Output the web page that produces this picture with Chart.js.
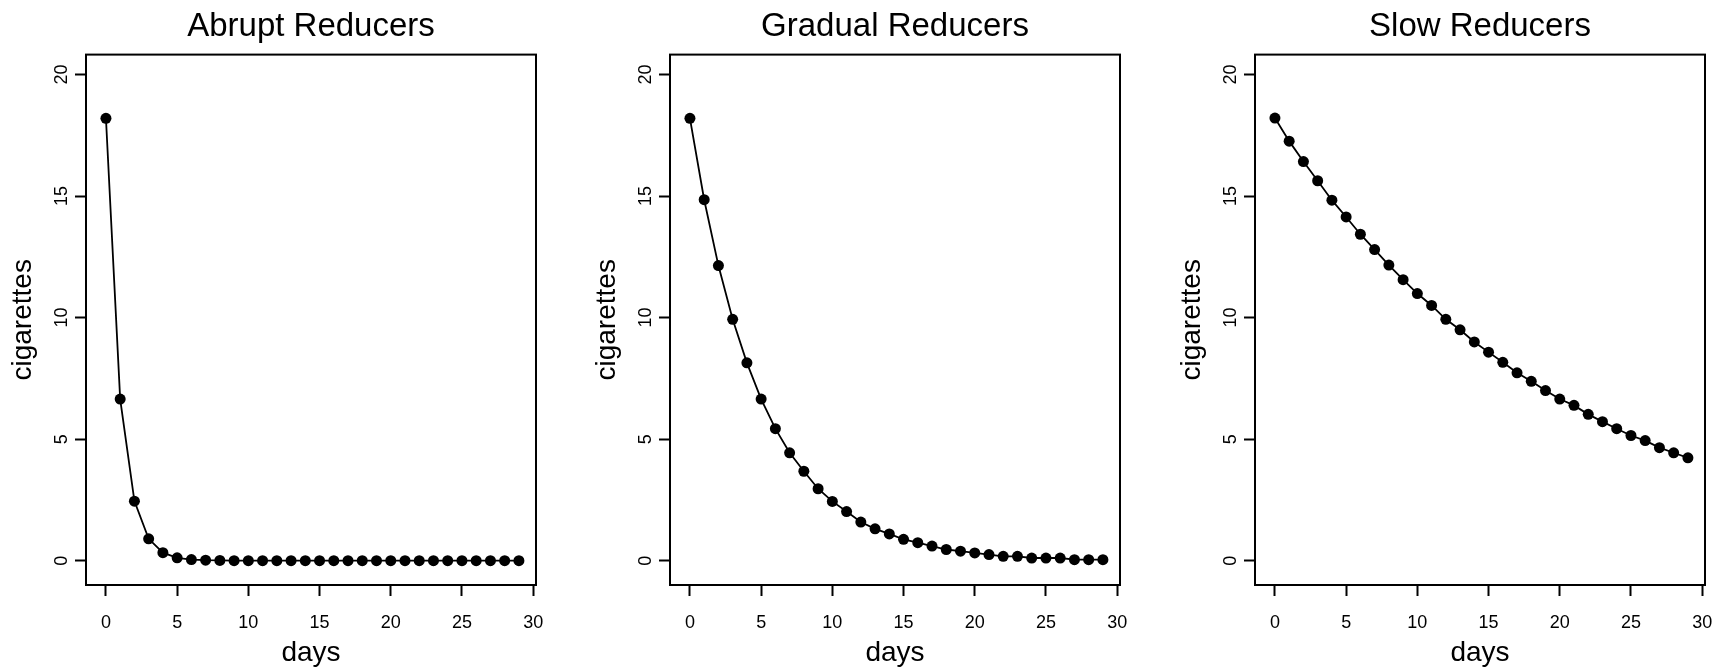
<!DOCTYPE html>
<html>
<head>
<meta charset="utf-8">
<script src="https://cdn.jsdelivr.net/npm/chart.js@4"></script>
<style>
    body { margin: 0; background: #fff; width: 1730px; height: 672px; position: relative; overflow: hidden; }
    canvas { position: absolute; top: 0; }
</style>
</head>
<body>
<canvas id="abrupt" width="561" height="672" style="left:0px"></canvas>
<canvas id="gradual" width="561" height="672" style="left:584px"></canvas>
<canvas id="slow" width="561" height="672" style="left:1169px"></canvas>
<script>
const days = [0, 1, 2, 3, 4, 5, 6, 7, 8, 9, 10, 11, 12, 13, 14, 15, 16, 17, 18, 19, 20, 21, 22, 23, 24, 25, 26, 27, 28, 29];

const abrupt = [18.2, 6.65, 2.45, 0.9, 0.33, 0.12, 0.045, 0.02, 0.01, 0, 0, 0, 0, 0, 0,
    0, 0, 0, 0, 0, 0, 0, 0, 0, 0, 0, 0, 0, 0, 0];
const gradual = [18.2, 14.85, 12.14, 9.93, 8.14, 6.65, 5.43, 4.44, 3.68, 2.96, 2.44, 2.02, 1.59, 1.31, 1.1,
    0.88, 0.74, 0.6, 0.46, 0.39, 0.32, 0.25, 0.18, 0.18, 0.11, 0.11, 0.11, 0.04, 0.04, 0.04];
const slow = [18.21, 17.26, 16.42, 15.63, 14.83, 14.14, 13.43, 12.8, 12.16, 11.56, 10.99, 10.5, 9.93, 9.5, 9.0,
    8.58, 8.16, 7.73, 7.38, 7.0, 6.65, 6.39, 6.02, 5.72, 5.43, 5.15, 4.94, 4.65, 4.44, 4.23];

const xTicks = [0, 5, 10, 15, 20, 25, 30];
const yTicks = [0, 5, 10, 15, 20];

const panels = [
    { id: "abrupt", title: "Abrupt Reducers", values: abrupt },
    { id: "gradual", title: "Gradual Reducers", values: gradual },
    { id: "slow", title: "Slow Reducers", values: slow }
];

const FONT = "'Liberation Sans', Arial, sans-serif";

// R-style closed box round the plot area
const boxPlugin = {
    id: "box",
    afterDraw(chart) {
        const { ctx, chartArea: a } = chart;
        ctx.save();
        ctx.strokeStyle = "#000";
        ctx.lineWidth = 2;
        ctx.strokeRect(a.left, a.top, a.right - a.left, a.bottom - a.top);
        ctx.restore();
    }
};

function makeChart(panel) {
    const canvas = document.getElementById(panel.id);
    // plot box sits at 86..536 in every canvas
    const rightPad = canvas.width - 536;
    return new Chart(canvas.getContext("2d"), {
        type: "line",
        data: {
            datasets: [{
                data: days.map((d, i) => ({ x: d, y: panel.values[i] })),
                borderColor: "#000",
                borderWidth: 1.8,
                backgroundColor: "#000",
                pointRadius: 5.5,
                pointBorderWidth: 0,
                pointBackgroundColor: "#000",
                tension: 0,
                fill: false
            }]
        },
        options: {
            responsive: false,
            animation: false,
            devicePixelRatio: 1,
            layout: { padding: { left: 0, right: rightPad, top: 0, bottom: 0 } },
            plugins: {
                legend: { display: false },
                tooltip: { enabled: false },
                title: {
                    display: true,
                    text: panel.title,
                    color: "#000",
                    fullSize: false,   // centre over the plot box, not the canvas
                    font: { family: FONT, size: 33, weight: "normal", lineHeight: 1.2 },
                    padding: { top: 7, bottom: 8 }
                }
            },
            scales: {
                x: {
                    type: "linear",
                    min: -1.4,
                    max: 30.2,
                    afterBuildTicks: s => { s.ticks = xTicks.map(v => ({ value: v })); },
                    afterFit: s => { s.height = 87; },
                    border: { display: false },
                    grid: { drawOnChartArea: false, drawTicks: true, tickLength: 11, tickWidth: 2, tickColor: "#000" },
                    ticks: {
                        color: "#000",
                        padding: 16,
                        maxRotation: 0,
                        font: { family: FONT, size: 18 }
                    },
                    title: {
                        display: true,
                        text: "days",
                        color: "#000",
                        font: { family: FONT, size: 28, lineHeight: 1.2 },
                        padding: { top: 0, bottom: 2 }
                    }
                },
                y: {
                    type: "linear",
                    min: -1.0,
                    max: 20.82,
                    afterBuildTicks: s => { s.ticks = yTicks.map(v => ({ value: v })); },
                    afterFit: s => { s.width = 86; },
                    border: { display: false },
                    grid: { drawOnChartArea: false, drawTicks: true, tickLength: 11, tickWidth: 2, tickColor: "#000" },
                    ticks: {
                        color: "#000",
                        padding: 3,
                        minRotation: 90,
                        maxRotation: 90,
                        crossAlign: "center",
                        font: { family: FONT, size: 18 }
                    },
                    title: {
                        display: true,
                        text: "cigarettes",
                        color: "#000",
                        font: { family: FONT, size: 28, lineHeight: 1.2 },
                        padding: { top: 6, bottom: 0 }
                    }
                }
            }
        },
        plugins: [boxPlugin]
    });
}

panels.forEach(makeChart);
</script>
</body>
</html>
